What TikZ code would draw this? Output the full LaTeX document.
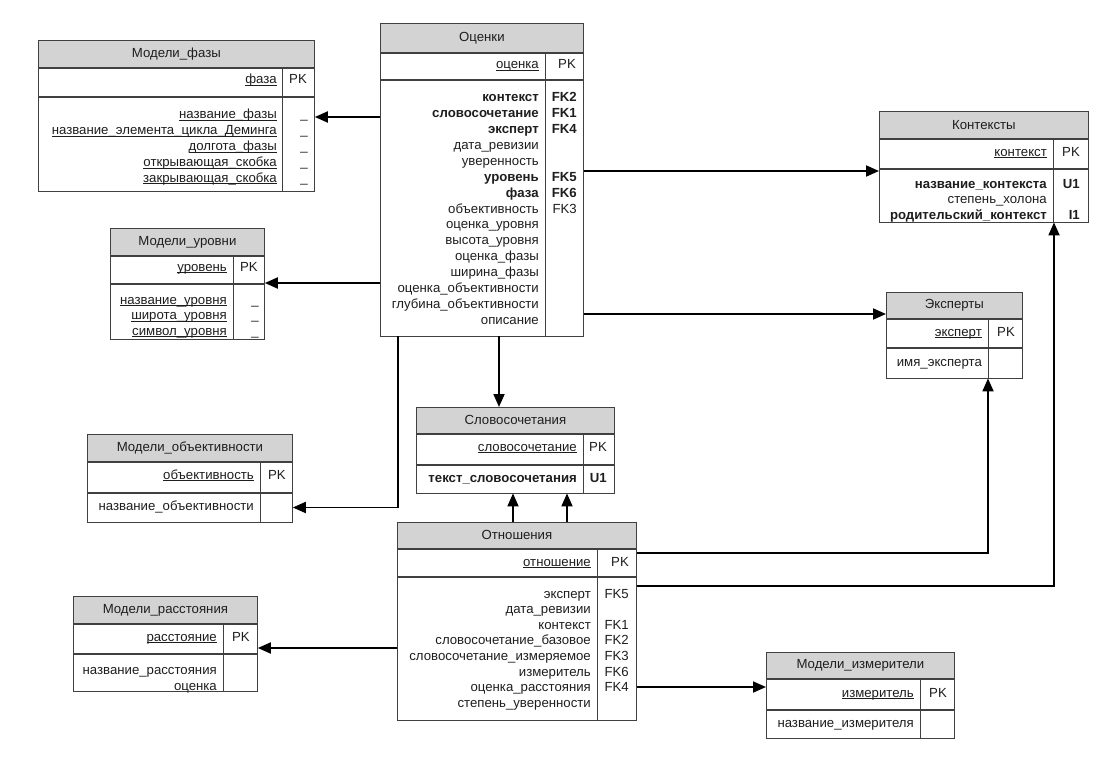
\documentclass[tikz,border=0pt]{standalone}
\usepackage{fontspec}
\setmainfont{Liberation Sans}
\usepackage{tikz}
\usetikzlibrary{arrows.meta}
\definecolor{tblline}{RGB}{64,64,64}
\definecolor{tblfill}{RGB}{211,211,211}
\definecolor{txt}{RGB}{30,30,30}
\newcommand{\keyname}[1]{\underline{\smash{#1}}}

\tikzset{
  tblhead/.style={draw=tblline, line width=0.8pt, fill=tblfill, anchor=north west, inner sep=0pt},
  tblrow/.style={draw=tblline, line width=0.8pt, fill=white, anchor=north west, inner sep=0pt},
  divline/.style={draw=tblline, line width=0.8pt},
  attr/.style={anchor=east, inner sep=0pt, text height=9pt, text depth=3pt},
  fk/.style={line width=1.8pt, -{Triangle[length=13pt,width=11pt]}},
}

\begin{document}
\begin{tikzpicture}[x=1pt, y=-1pt, font=\fontsize{13.2}{15.8}\selectfont, text=txt]
        \useasboundingbox (0,0) rectangle (1105,765);
        % Модели_фазы
        \node[tblhead, minimum width=276, minimum height=27] (mfH) at (38,40) {Модели\_фазы};
        \node[tblrow, minimum width=276, minimum height=28] (mfK) at (mfH.south west) {};
        \node[tblrow, minimum width=276, minimum height=94] (mfB) at (mfK.south west) {};
        \draw[divline] (mfK.north -| 282,0) -- (mfB.south -| 282,0);
        \node[attr] (mfPK) at (277,81) {\keyname{фаза}};
        \node[attr] (mfPKk) at (307,81) {PK};
        \foreach \n [count=\i from 0] in {название\_фазы, название\_элемента\_цикла\_Деминга, долгота\_фазы, открывающая\_скобка, закрывающая\_скобка} {
            \node[attr] (mf-a\i) at (277,116+15.8*\i) {\keyname{\n}};
            \node[attr] (mf-k\i) at (308,116+15.8*\i) {\_};
        }
        % Оценки
        \node[tblhead, minimum width=203, minimum height=29] (ocH) at (380,23) {Оценки};
        \node[tblrow, minimum width=203, minimum height=26] (ocK) at (ocH.south west) {};
        \node[tblrow, minimum width=203, minimum height=256] (ocB) at (ocK.south west) {};
        \draw[divline] (ocK.north -| 545,0) -- (ocB.south -| 545,0);
        \node[attr] (ocPK) at (539,66) {\keyname{оценка}};
        \node[attr] (ocPKk) at (576,66) {PK};
        \foreach \n/\k [count=\i from 0] in {{\textbf{контекст}}/{\textbf{FK2}}, {\textbf{словосочетание}}/{\textbf{FK1}}, {\textbf{эксперт}}/{\textbf{FK4}}, дата\_ревизии/{}, уверенность/{}, {\textbf{уровень}}/{\textbf{FK5}}, {\textbf{фаза}}/{\textbf{FK6}}, объективность/FK3, оценка\_уровня/{}, высота\_уровня/{}, оценка\_фазы/{}, ширина\_фазы/{}, оценка\_объективности/{}, глубина\_объективности/{}, описание/{}} {
            \node[attr] (oc-a\i) at (539,99+15.86*\i) {\n};
            \node[attr] (oc-k\i) at (577,99+15.86*\i) {\k};
        }
        % Контексты
        \node[tblhead, minimum width=209, minimum height=27] (ctH) at (879,111) {Контексты};
        \node[tblrow, minimum width=209, minimum height=29] (ctK) at (ctH.south west) {};
        \node[tblrow, minimum width=209, minimum height=53] (ctB) at (ctK.south west) {};
        \draw[divline] (ctK.north -| 1053,0) -- (ctB.south -| 1053,0);
        \node[attr] (ctPK) at (1047,153) {\keyname{контекст}};
        \node[attr] (ctPKk) at (1080,153) {PK};
        \foreach \n/\k [count=\i from 0] in {{\textbf{название\_контекста}}/{\textbf{U1}}, степень\_холона/{}, {\textbf{родительский\_контекст}}/{\textbf{I1}}} {
            \node[attr] (ct-a\i) at (1047,185+15.5*\i) {\n};
            \node[attr] (ct-k\i) at (1080,185+15.5*\i) {\k};
        }
        % Модели_уровни
        \node[tblhead, minimum width=154, minimum height=27] (muH) at (110,228) {Модели\_уровни};
        \node[tblrow, minimum width=154, minimum height=27] (muK) at (muH.south west) {};
        \node[tblrow, minimum width=154, minimum height=55] (muB) at (muK.south west) {};
        \draw[divline] (muK.north -| 233,0) -- (muB.south -| 233,0);
        \node[attr] (muPK) at (227,268) {\keyname{уровень}};
        \node[attr] (muPKk) at (258,268) {PK};
        \foreach \n [count=\i from 0] in {название\_уровня, широта\_уровня, символ\_уровня} {
            \node[attr] (mu-a\i) at (227,301+15.5*\i) {\keyname{\n}};
            \node[attr] (mu-k\i) at (259,301+15.5*\i) {\_};
        }
        % Эксперты
        \node[tblhead, minimum width=136, minimum height=26] (exH) at (886,292) {Эксперты};
        \node[tblrow, minimum width=136, minimum height=28] (exK) at (exH.south west) {};
        \node[tblrow, minimum width=136, minimum height=30] (exB) at (exK.south west) {};
        \draw[divline] (exK.north -| 988,0) -- (exB.south -| 988,0);
        \node[attr] (exPK) at (982,333) {\keyname{эксперт}};
        \node[attr] (exPKk) at (1015,333) {PK};
        \node[attr] (ex-a0) at (982,363) {имя\_эксперта};
        % Модели_объективности
        \node[tblhead, minimum width=205, minimum height=27] (moH) at (87,434) {Модели\_объективности};
        \node[tblrow, minimum width=205, minimum height=30] (moK) at (moH.south west) {};
        \node[tblrow, minimum width=205, minimum height=29] (moB) at (moK.south west) {};
        \draw[divline] (moK.north -| 260,0) -- (moB.south -| 260,0);
        \node[attr] (moPK) at (254,476) {\keyname{объективность}};
        \node[attr] (moPKk) at (286,476) {PK};
        \node[attr] (mo-a0) at (254,507) {название\_объективности};
        % Словосочетания
        \node[tblhead, minimum width=198, minimum height=26] (slH) at (416,407) {Словосочетания};
        \node[tblrow, minimum width=198, minimum height=30] (slK) at (slH.south west) {};
        \node[tblrow, minimum width=198, minimum height=28] (slB) at (slK.south west) {};
        \draw[divline] (slK.north -| 583,0) -- (slB.south -| 583,0);
        \node[attr] (slPK) at (577,448) {\keyname{словосочетание}};
        \node[attr] (slPKk) at (607,448) {PK};
        \node[attr] (sl-a0) at (577,479) {\textbf{текст\_словосочетания}};
        \node[attr] (sl-k0) at (607,479) {\textbf{U1}};
        % Отношения
        \node[tblhead, minimum width=239, minimum height=26] (otH) at (397,522) {Отношения};
        \node[tblrow, minimum width=239, minimum height=27] (otK) at (otH.south west) {};
        \node[tblrow, minimum width=239, minimum height=143] (otB) at (otK.south west) {};
        \draw[divline] (otK.north -| 597,0) -- (otB.south -| 597,0);
        \node[attr] (otPK) at (591,563) {\keyname{отношение}};
        \node[attr] (otPKk) at (629,563) {PK};
        \foreach \n/\k [count=\i from 0] in {эксперт/FK5, дата\_ревизии/{}, контекст/FK1, словосочетание\_базовое/FK2, словосочетание\_измеряемое/FK3, измеритель/FK6, оценка\_расстояния/FK4, степень\_уверенности/{}} {
            \node[attr] (ot-a\i) at (591,595+15.6*\i) {\n};
            \node[attr] (ot-k\i) at (629,595+15.6*\i) {\k};
        }
        % Модели_расстояния
        \node[tblhead, minimum width=184, minimum height=27] (mrH) at (73,596) {Модели\_расстояния};
        \node[tblrow, minimum width=184, minimum height=29] (mrK) at (mrH.south west) {};
        \node[tblrow, minimum width=184, minimum height=37] (mrB) at (mrK.south west) {};
        \draw[divline] (mrK.north -| 223,0) -- (mrB.south -| 223,0);
        \node[attr] (mrPK) at (217,638) {\keyname{расстояние}};
        \node[attr] (mrPKk) at (250,638) {PK};
        \node[attr] (mr-a0) at (217,671) {название\_расстояния};
        \node[attr] (mr-a1) at (217,687) {оценка};
        % Модели_измерители
        \node[tblhead, minimum width=188, minimum height=26] (miH) at (766,652) {Модели\_измерители};
        \node[tblrow, minimum width=188, minimum height=30] (miK) at (miH.south west) {};
        \node[tblrow, minimum width=188, minimum height=28] (miB) at (miK.south west) {};
        \draw[divline] (miK.north -| 920,0) -- (miB.south -| 920,0);
        \node[attr] (miPK) at (914,694) {\keyname{измеритель}};
        \node[attr] (miPKk) at (947,694) {PK};
        \node[attr] (mi-a0) at (914,724) {название\_измерителя};
        % связи
        \draw[fk] (ocB.west |- 0,117) -- (mfB.east |- 0,117);
        \draw[fk] (ocB.west |- 0,283) -- (muB.east |- 0,283);
        \draw[fk] (ocB.south west) ++(18,0) |- (moB.east);
        \draw[fk] (ocB.south -| 499,0) -- (slH.north -| 499,0);
        \draw[fk] (ocB.east |- 0,171) -- (ctB.west |- 0,171);
        \draw[fk] (ocB.east |- 0,314) -- (exH.west |- 0,314);
        \draw[fk] (otH.north -| 513,0) -- (slB.south -| 513,0);
        \draw[fk] (otH.north -| 567,0) -- (slB.south -| 567,0);
        \draw[fk] (otK.east |- 0,553) -| (exB.south -| 988,0);
        \draw[fk] (otB.east |- 0,586) -| (ctB.south -| 1054,0);
        \draw[fk] (otB.west |- 0,648) -- (mrK.east |- 0,648);
        \draw[fk] (otB.east |- 0,687) -- (miK.west |- 0,687);
    \end{tikzpicture}
\end{document}
